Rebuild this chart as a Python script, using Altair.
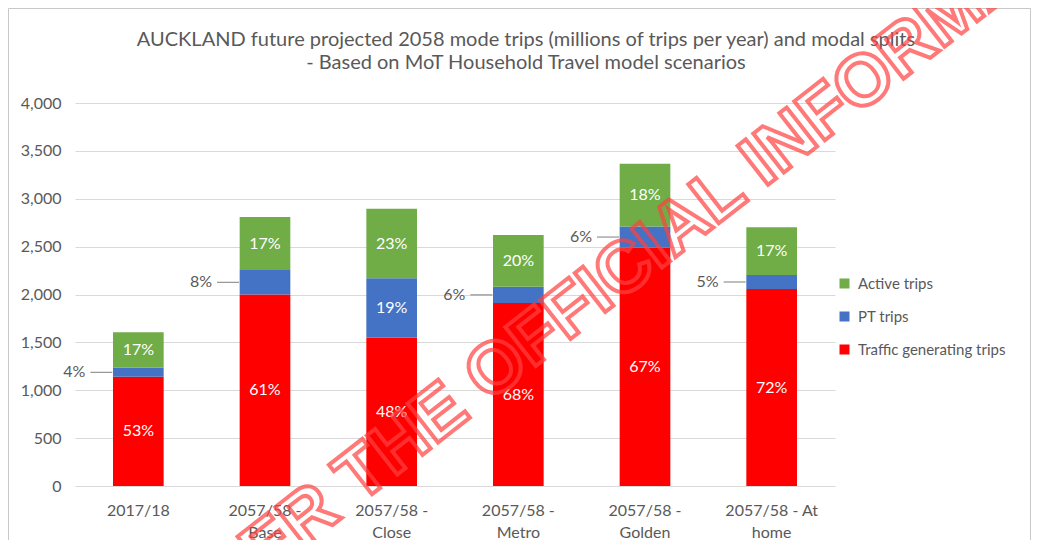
import altair as alt
import pandas as pd

categories = ["2017/18", "2057/58 -|Base", "2057/58 -|Close", "2057/58 -|Metro",
              "2057/58 -|Golden", "2057/58 - At|home"]
traffic = [1140, 2000, 1550, 1910, 2490, 2057]
pt = [95, 255, 620, 172, 220, 147]
active = [370, 555, 725, 540, 655, 498]
traffic_pct = ["53%", "61%", "48%", "68%", "67%", "72%"]
pt_pct = ["4%", "8%", "19%", "6%", "6%", "5%"]
active_pct = ["17%", "17%", "23%", "20%", "18%", "17%"]

title_lines = ["AUCKLAND future projected 2058 mode trips (millions of trips per year) and modal splits",
               "- Based on MoT Household Travel model scenarios"]
watermark_text = "RELEASED UNDER THE OFFICIAL INFORMATION ACT"

series_names = ["Traffic  generating trips", "PT trips", "Active trips"]
legend_order = ["Active trips", "PT trips", "Traffic  generating trips"]
colors = ["#70AD47", "#4472C4", "#FF0000"]

rows = []
for i, c in enumerate(categories):
    base = 0
    for s, vals, pcts in zip(series_names, [traffic, pt, active],
                             [traffic_pct, pt_pct, active_pct]):
        v = vals[i]
        rows.append(dict(cat=c, series=s, start=base, end=base + v,
                         mid=base + v / 2, pct=pcts[i],
                         outside=(s == "PT trips" and v < 300)))
        base += v
df = pd.DataFrame(rows)

FONT = "Lato"
GREY = "#595959"

x = alt.X("cat:N", sort=categories, title=None,
          scale=alt.Scale(paddingInner=0.6, paddingOuter=0.3),
          axis=alt.Axis(labelExpr="split(datum.label, '|')", labelAngle=0,
                        labelFontSize=16, labelColor=GREY, labelFont=FONT,
                        labelLineHeight=22, labelPadding=16,
                        ticks=False, domain=False, grid=False))
y_scale = alt.Scale(domain=[0, 4000])

base = alt.Chart(df)
one = base.transform_filter("datum.series == 'PT trips' && datum.cat == '2017/18'")

bars = base.mark_bar().encode(
    x=x,
    y=alt.Y("start:Q", scale=y_scale, title=None,
            axis=alt.Axis(values=list(range(0, 4001, 500)), format=",.0f",
                          labelFontSize=16, labelColor=GREY, labelFont=FONT,
                          labelPadding=14, ticks=False, domain=False,
                          gridColor="#d9d9d9", gridWidth=1)),
    y2="end:Q",
    color=alt.Color("series:N", scale=alt.Scale(domain=legend_order, range=colors),
                    legend=alt.Legend(title=None, orient="none", legendX=762,
                                      legendY=173, symbolType="square",
                                      symbolSize=100, labelFontSize=15,
                                      labelColor=GREY, labelFont=FONT,
                                      rowPadding=17, symbolStrokeWidth=0,
                                      labelOffset=6)),
)

inside = base.transform_filter("!datum.outside").mark_text(
    color="white", fontSize=16, font=FONT).encode(
    x=alt.X("cat:N", sort=categories), y="mid:Q", text="pct:N")

outside_txt = base.transform_filter("datum.outside").mark_text(
    color=GREY, fontSize=16, font=FONT, align="right", dx=-53).encode(
    x=alt.X("cat:N", sort=categories), y="mid:Q", text="pct:N")

leader = base.transform_filter("datum.outside").mark_rule(
    color="#7f7f7f", strokeWidth=1, xOffset=-48, x2Offset=-26).encode(
    x=alt.X("cat:N", sort=categories), x2="cat:N", y="mid:Q")

border = one.mark_rect(fill="transparent", stroke="#c8c8c8", strokeWidth=1).encode(
    x=alt.value(-66.5), x2=alt.value(955.5), y=alt.value(-94.5), y2=alt.value(470))

title1 = one.mark_text(text=title_lines[0], fontSize=20, font=FONT, color=GREY).encode(
    x=alt.value(451), y=alt.value(-63))
title2 = one.mark_text(text=title_lines[1], fontSize=20, font=FONT, color=GREY).encode(
    x=alt.value(451), y=alt.value(-40))

watermark = one.mark_text(
    text=watermark_text, font="Liberation Sans",
    fontWeight="bold", fontSize=72, angle=322, fill="transparent",
    stroke="#ff4040", strokeWidth=4, strokeOpacity=0.7).encode(
    x=alt.value(465), y=alt.value(232))

chart = alt.layer(border, bars, inside, outside_txt, leader, title1, title2, watermark).properties(
    width=760, height=383,
    autosize=alt.AutoSizeParams(type="none"),
    padding={"left": 67, "top": 95, "right": 196, "bottom": 54},
).configure_view(stroke=None)

chart.save("out.html", embed_options={"renderer": "svg", "actions": False})
